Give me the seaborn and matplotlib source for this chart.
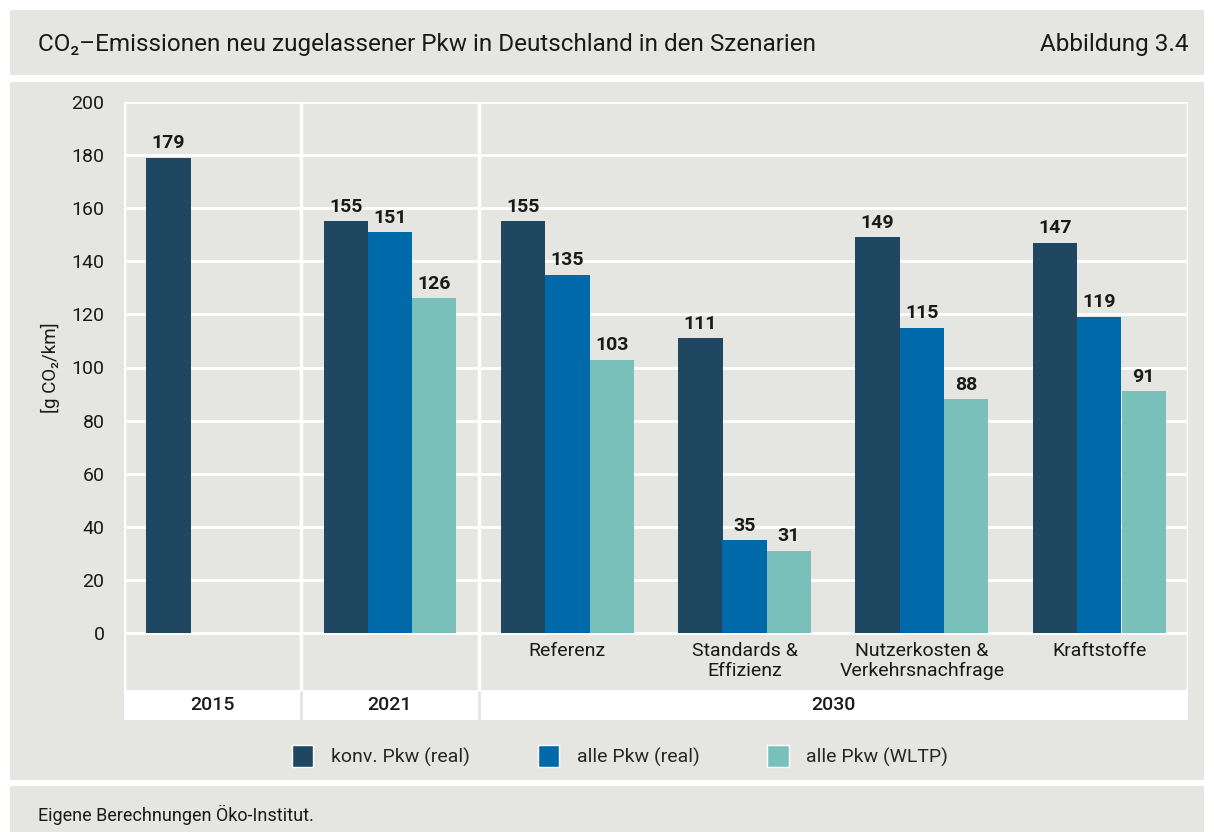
import numpy as np
import pandas as pd
import seaborn as sns
import matplotlib.pyplot as plt
from matplotlib.patches import Rectangle, Patch

# data
categories = ["2015", "2021", "Referenz", "Standards &\nEffizienz",
              "Nutzerkosten &\nVerkehrsnachfrage", "Kraftstoffe"]
tick_labels = ["", "", "Referenz", "Standards &\nEffizienz",
               "Nutzerkosten &\nVerkehrsnachfrage", "Kraftstoffe"]
series = ["konv. Pkw (real)", "alle Pkw (real)", "alle Pkw (WLTP)"]
konv_real = [179, 155, 155, 111, 149, 147]
alle_real = [np.nan, 151, 135, 35, 115, 119]
alle_wltp = [np.nan, 126, 103, 31, 88, 91]
years = ["2015", "2021", "2030"]
year_span = [(0, 0), (1, 1), (2, 5)]
yticks = list(range(0, 201, 20))

colors = ["#1f4761", "#0069a9", "#79c0bb"]
bg = "#e5e5e1"

sns.set_theme(style="white")
plt.rcParams["font.family"] = ["Roboto", "DejaVu Sans"]

df = pd.DataFrame({
    "cat": categories * 3,
    "series": np.repeat(series, len(categories)),
    "val": konv_real + alle_real + alle_wltp,
})

fig = plt.figure(figsize=(12.14, 8.32), dpi=100)
fig.patch.set_facecolor("white")
H = 832.0
W = 1214.0
# panels behind everything
for (x0, y0, w, h) in [(10, 10, 1194, 65), (10, 82, 1194, 698), (10, 786, 1194, 46)]:
    fig.patches.append(Rectangle((x0 / W, 1 - (y0 + h) / H), w / W, h / H, transform=fig.transFigure,
                                 facecolor=bg, edgecolor="none", zorder=-5))

fig.text(38 / W, 1 - 44 / H, "CO\u2082\u2013Emissionen neu zugelassener Pkw in Deutschland in den Szenarien",
         fontsize=17.5, va="center", ha="left", color="#1a1a1a")
fig.text(1188 / W, 1 - 44 / H, "Abbildung 3.4", fontsize=17.5, va="center", ha="right", color="#1a1a1a")
fig.text(38 / W, 1 - 815 / H, "Eigene Berechnungen Öko-Institut.", fontsize=13, va="center",
         ha="left", color="#1a1a1a")

# axes: 200 at y=102px, 0 at y=633px, bottom of table at 720px
ppu = (633 - 102) / 200.0
ybot = -(720 - 633) / ppu
ysep = -(691 - 633) / ppu
ax = fig.add_axes([124 / W, 1 - 720 / H, 1064 / W, (720 - 102) / H])
ax.set_facecolor(bg)

sns.barplot(data=df, x="cat", y="val", hue="series", order=categories, hue_order=series,
            palette=colors, width=0.75, saturation=1, ax=ax, legend=False, zorder=3,
            linewidth=0, edgecolor="none")

for c in ax.containers:
    ax.bar_label(c, fmt="%d", padding=4, fontsize=14, fontweight="semibold", color="#1a1a1a")

ax.set_ylim(ybot, 200)
ax.set_xlim(-0.5, len(categories) - 0.5)
ax.set_yticks(yticks)
ax.tick_params(axis="y", length=0, labelsize=14, pad=14, labelcolor="#1a1a1a")
ax.set_xticks([])
ax.set_xlabel("")
ax.set_ylabel("[g CO\u2082/km]", fontsize=13.5, color="#1a1a1a")
ax.yaxis.set_label_coords(-64 / 1064, (720 - 368) / (720 - 102))
for s in ax.spines.values():
    s.set_visible(False)
for y in yticks:
    ax.axhline(y, color="white", lw=2, zorder=1)

# lower label band + year band
ax.axhspan(ybot, ysep, color="white", zorder=1)
ax.axhline(ysep, color="white", lw=2, zorder=1)
for x in [-0.5, 0.5, 1.5, len(categories) - 0.5]:
    ax.vlines(x, ysep, 200, color="white", lw=2.5, zorder=2)
for x in [0.5, 1.5]:
    ax.vlines(x, ybot, ysep, color=bg, lw=2, zorder=2)

for i, lab in enumerate(tick_labels):
    if lab:
        ax.text(i, -3.5, lab, ha="center", va="top", fontsize=14, color="#1a1a1a", linespacing=1.1)
for yr, (a, b) in zip(years, year_span):
    ax.text((a + b) / 2, (ybot + ysep) / 2, yr, ha="center", va="center", fontsize=14,
            fontweight="medium", color="#1a1a1a")

handles = [Patch(facecolor=c, edgecolor="white", lw=1) for c in colors]
fig.legend(handles, series, loc="center", bbox_to_anchor=(620 / W, 1 - 756 / H), ncol=3,
           frameon=False, fontsize=14, handlelength=1.1, handleheight=1.3, handletextpad=0.9,
           columnspacing=3.5)

fig.savefig("out.png", dpi=100, facecolor=fig.get_facecolor())
